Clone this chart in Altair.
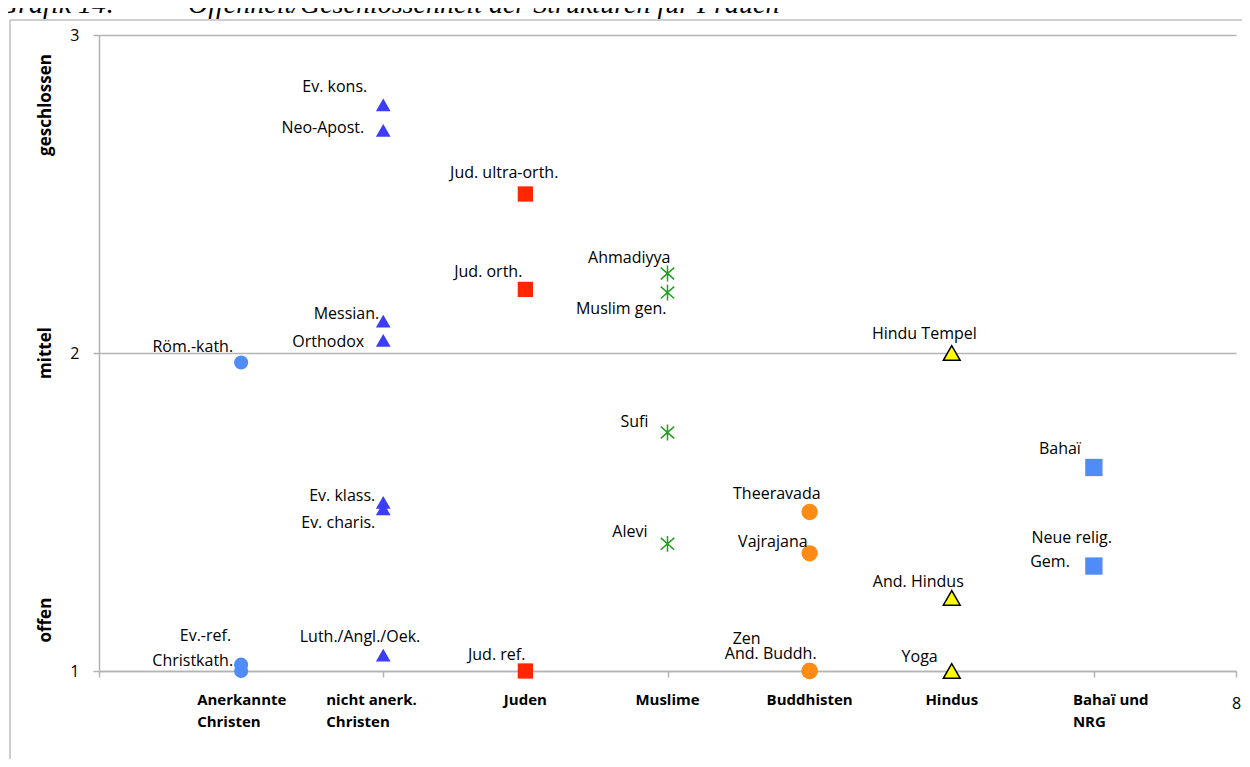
import altair as alt
import pandas as pd

# ---------------- data ----------------
group_keys = ["ak", "nak", "jud", "mus", "bud", "hin", "bah"]
group_labels = ["Anerkannte\nChristen", "nicht anerk.\nChristen", "Juden", "Muslime",
                "Buddhisten", "Hindus", "Bahaï und\nNRG"]
group_x = [1, 2, 3, 4, 5, 6, 7]

point_names = ["Röm.-kath.", "Ev.-ref.", "Christkath.",
               "Ev. kons.", "Neo-Apost.", "Messian.", "Orthodox", "Ev. klass.", "Ev. charis.", "Luth./Angl./Oek.",
               "Jud. ultra-orth.", "Jud. orth.", "Jud. ref.",
               "Ahmadiyya", "Muslim gen.", "Sufi", "Alevi",
               "Theeravada", "Vajrajana", "Zen", "And. Buddh.",
               "Hindu Tempel", "And. Hindus", "Yoga",
               "Bahaï", "Neue relig. Gem."]
point_group = [0, 0, 0,
               1, 1, 1, 1, 1, 1, 1,
               2, 2, 2,
               3, 3, 3, 3,
               4, 4, 4, 4,
               5, 5, 5,
               6, 6]
point_value = [1.97, 1.02, 1.00,
               2.78, 2.70, 2.10, 2.04, 1.53, 1.51, 1.05,
               2.50, 2.20, 1.00,
               2.25, 2.19, 1.75, 1.40,
               1.50, 1.37, 1.00, 1.00,
               2.00, 1.23, 1.00,
               1.64, 1.33]

# point labels (text, index of the point they belong to)
label_text = ["Röm.-kath.", "Ev.-ref.", "Christkath.",
              "Ev. kons.", "Neo-Apost.", "Messian.", "Orthodox", "Ev. klass.", "Ev. charis.", "Luth./Angl./Oek.",
              "Jud. ultra-orth.", "Jud. orth.", "Jud. ref.",
              "Ahmadiyya", "Muslim gen.", "Sufi", "Alevi",
              "Theeravada", "Vajrajana", "Zen", "And. Buddh.",
              "Hindu Tempel", "And. Hindus", "Yoga",
              "Bahaï", "Neue relig.", "Gem."]
label_point = list(range(25)) + [25, 25]

# label placement (pixel offsets of the label's right edge from its point)
label_dx = [-8, -10, -8,
            -16, -19, -4, -19, -8, -8, 37,
            33, -3, 0,
            3, -1, -19, -20,
            11, -2, -49, 7,
            25, 12, -14,
            -13, 18, -24]
label_dy = [-16, -29, -10,
            -18, -2, -7, 2, -6, 14, -18,
            -21, -17, -16,
            -16, 16, -11, -12,
            -18, -11, -32, -17,
            -19, -16, -14,
            -18, -28, -4]

# category label placement
cat_dx = [-44, -57, 0, 0, 0, 0, -21]

side_titles = ["geschlossen", "mittel", "offen"]
side_y = [2.78, 2.0, 1.16]

# ---------------- styles ----------------
fills = ["#4F8CF6", "#3C3CFA", "#FF2600", "transparent", "#FF8B17", "#FFFF00", "#4F8CF6"]
strokes = ["transparent", "transparent", "transparent", "#1FA01F", "transparent", "#000000", "transparent"]
shapes = ["circle", "triangle-up", "square",
          "M0,-1L0,1M-0.85,-0.75L0.85,0.75M-0.85,0.75L0.85,-0.75",
          "circle", "triangle-up", "square"]
sizes = [200, 300, 240, 200, 200, 250, 240]

FONT = "Open Sans"
GRAY = "#B3B3B3"

W, H = 1137, 636
X0, X1, Y0, Y1 = 0, 8, 1, 3

pts = pd.DataFrame({
    "name": point_names,
    "x": [group_x[g] for g in point_group],
    "y": point_value,
    "grp": [group_keys[g] for g in point_group],
})

labs = pd.DataFrame({
    "text": label_text,
    "x": [group_x[point_group[i]] for i in label_point],
    "y": [point_value[i] for i in label_point],
    "dx": label_dx,
    "dy": label_dy,
})

cats = pd.DataFrame({
    "text": group_labels,
    "x": group_x,
    "dx": cat_dx,
    "multi": ["\n" in t for t in group_labels],
})

xscale = alt.Scale(domain=[X0, X1], nice=False, zero=False)
yscale = alt.Scale(domain=[Y0, Y1], nice=False, zero=False)

x_axis = alt.Axis(values=list(range(9)), grid=False, tickSize=6, tickColor=GRAY,
                  domainColor=GRAY, domainWidth=1.5, tickWidth=1.5,
                  labelExpr="datum.value == 8 ? '8' : ''", labelFlush=False,
                  labelFontSize=16, labelFont=FONT, labelColor="#000",
                  labelPadding=18, title=None)
y_axis = alt.Axis(values=[1, 2, 3], grid=True, gridColor=GRAY, gridWidth=1.5,
                  tickSize=6, tickColor=GRAY, tickWidth=1.5,
                  domainColor=GRAY, domainWidth=1.5,
                  labelExpr="'' + round(datum.value)", labelOverlap=False,
                  labelFlush=False, labelBound=False,
                  labelFontSize=16, labelFont=FONT, labelColor="#000",
                  labelPadding=14, title=None)


def X(field):
    return alt.X(field, type="quantitative", scale=xscale, axis=x_axis, title=None)


def Y(field):
    return alt.Y(field, type="quantitative", scale=yscale, axis=y_axis, title=None)


points = alt.Chart(pts).mark_point(filled=True, strokeWidth=1.5, opacity=1).encode(
    x=X("x"),
    y=Y("y"),
    shape=alt.Shape("grp:N", scale=alt.Scale(domain=group_keys, range=shapes), legend=None),
    fill=alt.Fill("grp:N", scale=alt.Scale(domain=group_keys, range=fills), legend=None),
    stroke=alt.Stroke("grp:N", scale=alt.Scale(domain=group_keys, range=strokes), legend=None),
    size=alt.Size("grp:N", scale=alt.Scale(domain=group_keys, range=sizes), legend=None),
)

# pixel offsets converted into the (linear, fixed-domain) data space
texts = alt.Chart(labs).transform_calculate(
    lx=f"datum.x + datum.dx * {(X1 - X0) / W}",
    ly=f"datum.y - datum.dy * {(Y1 - Y0) / H}",
).mark_text(align="right", baseline="middle", font=FONT,
            fontSize=16, color="#000").encode(
    x=X("lx"),
    y=Y("ly"),
    text="text:N",
)

cat_multi = alt.Chart(cats).transform_filter("datum.multi").transform_calculate(
    lx=f"datum.x + datum.dx * {(X1 - X0) / W}",
).mark_text(
    align="left", baseline="top", font=FONT, fontSize=15, fontWeight="bold",
    color="#000", lineBreak="\n", lineHeight=22).encode(
    x=X("lx"),
    y=alt.value(H + 22),
    text="text:N",
)
cat_single = alt.Chart(cats).transform_filter("!datum.multi").mark_text(
    align="center", baseline="top", font=FONT, fontSize=15, fontWeight="bold",
    color="#000").encode(
    x=X("x"),
    y=alt.value(H + 22),
    text="text:N",
)

sides = alt.Chart(pd.DataFrame({"t": side_titles, "y": side_y})).mark_text(
    angle=270, align="center", baseline="middle", font=FONT, fontSize=17,
    fontWeight="bold", color="#000").encode(
    x=alt.value(-53),
    y=Y("y"),
    text="t:N",
)

one = pd.DataFrame({"a": [0]})
frame_left = alt.Chart(one).mark_rule(color="#BFBFBF", strokeWidth=1.5).encode(
    x=alt.value(-89), y=alt.value(-15), y2=alt.value(H + 88))
frame_top = alt.Chart(one).mark_rule(color="#BFBFBF", strokeWidth=1.5).encode(
    x=alt.value(-89), x2=alt.value(W + 6), y=alt.value(-15))

title_a = alt.Chart(one).mark_text(align="left", baseline="alphabetic", font="Liberation Serif",
                                   fontStyle="italic", fontSize=28, color="#000").encode(
    x=alt.value(-101), y=alt.value(-22), text=alt.value("Grafik 14:"))
title_b = alt.Chart(one).mark_text(align="left", baseline="alphabetic", font="Liberation Serif",
                                   fontStyle="italic", fontSize=28, color="#000").encode(
    x=alt.value(89), y=alt.value(-22),
    text=alt.value("Offenheit/Geschlossenheit der Strukturen für Frauen"))

chart = alt.layer(
    points, texts, cat_multi, cat_single, sides,
    frame_left, frame_top, title_a, title_b,
).properties(
    width=W, height=H,
    autosize=alt.AutoSizeParams(type="none"),
    padding={"left": 91, "top": 27, "right": 6, "bottom": 88},
).configure(background="white").configure_view(strokeWidth=0, strokeOpacity=0)

chart.save("out.html", embed_options={"renderer": "svg", "actions": False})
